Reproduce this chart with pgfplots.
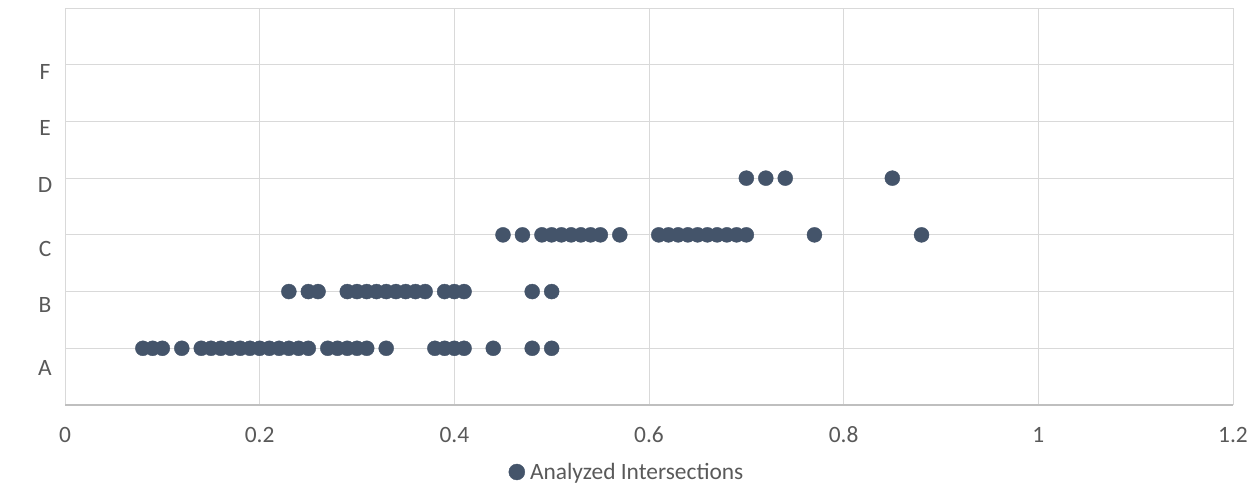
\documentclass[border=0pt]{standalone}
\usepackage{pgfplots}
\pgfplotsset{compat=1.18}
\usepackage{fontspec}
\setmainfont{Carlito}
\definecolor{dotc}{HTML}{44546A}
\definecolor{txt}{HTML}{595959}
\definecolor{gridc}{HTML}{D9D9D9}
\definecolor{axc}{HTML}{BFBFBF}
\begin{document}
\begin{tikzpicture}
\begin{axis}[
  scale only axis, width=1168bp, height=397bp,
  xmin=0, xmax=1.2, ymin=0, ymax=7,
  axis line style={draw=none},
  xtick={0,0.2,0.4,0.6,0.8,1,1.2},
  xticklabels={0,0.2,0.4,0.6,0.8,1,1.2},
  ytick={1,2,3,4,5,6,7}, yticklabels={},
  xmajorgrids, ymajorgrids,
  grid style={gridc, line width=1bp},
  major tick length=0pt,
  tick style={draw=none},
  extra y ticks={0.65,1.76,2.75,3.88,4.89,5.87},
  extra y tick labels={A,B,C,D,E,F},
  extra y tick style={grid=none, major tick length=0pt, tick style={draw=none}},
  yticklabel style={anchor=center, xshift=-20bp},
  xticklabel style={anchor=center, yshift=-30bp},
  tick label style={font=\fontsize{23.5}{27}\selectfont, text=txt},
  /pgf/number format/assume math mode=true,
  legend style={at={(0.5,0)}, anchor=center, xshift=-22bp, yshift=-67bp, draw=none, fill=none,
    font=\fontsize{23.5}{27}\selectfont, text=txt,
    /tikz/every even column/.append style={column sep=0pt}},
  legend cell align=left,
  legend image code/.code={\fill[dotc] (0bp,0bp) circle (8bp); \path (11bp,0bp);},
]
\addplot[only marks, mark=*, mark size=7.5bp, mark options={fill=dotc, draw=dotc}] coordinates {
(0.08,1)(0.09,1)(0.10,1)(0.12,1)
(0.14,1)(0.15,1)(0.16,1)(0.17,1)(0.18,1)(0.19,1)(0.20,1)(0.21,1)(0.22,1)(0.23,1)(0.24,1)(0.25,1)
(0.27,1)(0.28,1)(0.29,1)(0.30,1)(0.31,1)(0.33,1)
(0.38,1)(0.39,1)(0.40,1)(0.41,1)(0.44,1)(0.48,1)(0.50,1)
(0.23,2)(0.25,2)(0.26,2)
(0.29,2)(0.30,2)(0.31,2)(0.32,2)(0.33,2)(0.34,2)(0.35,2)(0.36,2)(0.37,2)
(0.39,2)(0.40,2)(0.41,2)(0.48,2)(0.50,2)
(0.45,3)(0.47,3)(0.49,3)(0.50,3)(0.51,3)(0.52,3)(0.53,3)(0.54,3)(0.55,3)(0.57,3)
(0.61,3)(0.62,3)(0.63,3)(0.64,3)(0.65,3)(0.66,3)(0.67,3)(0.68,3)(0.69,3)(0.70,3)
(0.77,3)(0.88,3)
(0.70,4)(0.72,4)(0.74,4)(0.85,4)
};
\addlegendentry{Analyzed Intersections}
\draw[axc, line width=1.2bp] (rel axis cs:0,0) -- (rel axis cs:1,0);
\coordinate (o) at (rel axis cs:0,0);
\end{axis}
\path (o) ++(-65bp,-80bp) rectangle ++(1259bp,485bp);
\end{tikzpicture}
\end{document}
